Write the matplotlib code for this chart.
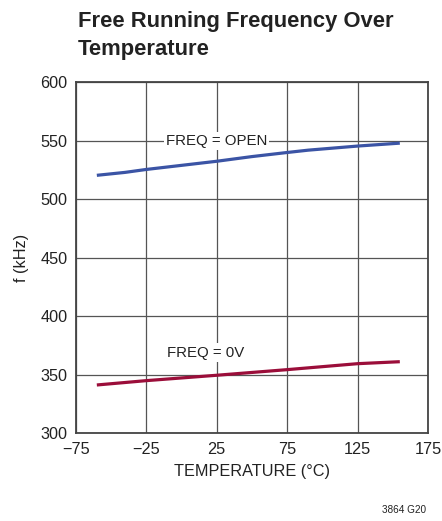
import matplotlib
matplotlib.use("Agg")
import matplotlib.pyplot as plt
from matplotlib import font_manager

# データ
temp_open = [-60, -40, -25, 0, 25, 50, 75, 90, 125, 155]
freq_open = [520.5, 523, 525.5, 529, 532.5, 536.5, 540, 542, 545.5, 548]
temp_0v = [-60, -25, 25, 75, 125, 155]
freq_0v = [341.3, 345, 349.6, 354.4, 359.5, 361.2]
x_ticks = [-75, -25, 25, 75, 125, 175]
x_tick_labels = ["\u221275", "\u221225", "25", "75", "125", "175"]
y_ticks = [300, 350, 400, 450, 500, 550, 600]

# 細めのフォントがあれば使う
names = {f.name for f in font_manager.fontManager.ttflist}
narrow = "Liberation Sans Narrow" in names
font = "Liberation Sans Narrow" if narrow else "Liberation Sans"
plt.rcParams["font.family"] = [font, "DejaVu Sans"]
k = 1.0 if narrow else 0.9

fig = plt.figure(figsize=(4.42, 5.21), dpi=100)
ax = fig.add_axes([75.7 / 442, 1 - 433.3 / 521, 352.3 / 442, 351 / 521])

ax.plot(temp_open, freq_open, color="#3b54a5", lw=2.3, solid_capstyle="butt", zorder=3)
ax.plot(temp_0v, freq_0v, color="#9b0e3a", lw=2.3, solid_capstyle="butt", zorder=3)

ax.set_xlim(-75, 175)
ax.set_ylim(300, 600)
ax.set_xticks(x_ticks)
ax.set_xticklabels(x_tick_labels)
ax.set_yticks(y_ticks)
ax.grid(True, color="#555555", lw=0.9)
ax.set_axisbelow(True)
ax.tick_params(length=0, labelsize=13 * k, pad=6, colors="#222222")
for s in ax.spines.values():
    s.set_color("#444444")
    s.set_linewidth(1.3)

ax.text(25, 550, "FREQ = OPEN", fontsize=12 * k, ha="center", va="center",
        color="#222222", bbox=dict(facecolor="white", edgecolor="none", pad=1.5), zorder=2)
ax.text(-10.5, 369, "FREQ = 0V", fontsize=12 * k, ha="left", va="center",
        color="#222222", bbox=dict(facecolor="white", edgecolor="none", pad=1.5), zorder=2)

ax.set_xlabel("TEMPERATURE (\u00b0C)", fontsize=13 * k, color="#222222", labelpad=5)
ax.set_ylabel("f (kHz)", fontsize=13 * k, color="#222222", labelpad=8)

fig.text(78 / 442, 1 - 11 / 521, "Free Running Frequency Over\nTemperature",
         fontsize=17 * k + 0.5, fontweight="bold", ha="left", va="top", color="#222222",
         linespacing=1.45)
fig.text(426 / 442, 1 - 510 / 521, "3864 G20", fontsize=8 * k, ha="right", va="center",
         color="#222222")

fig.savefig("out.png", dpi=100)
